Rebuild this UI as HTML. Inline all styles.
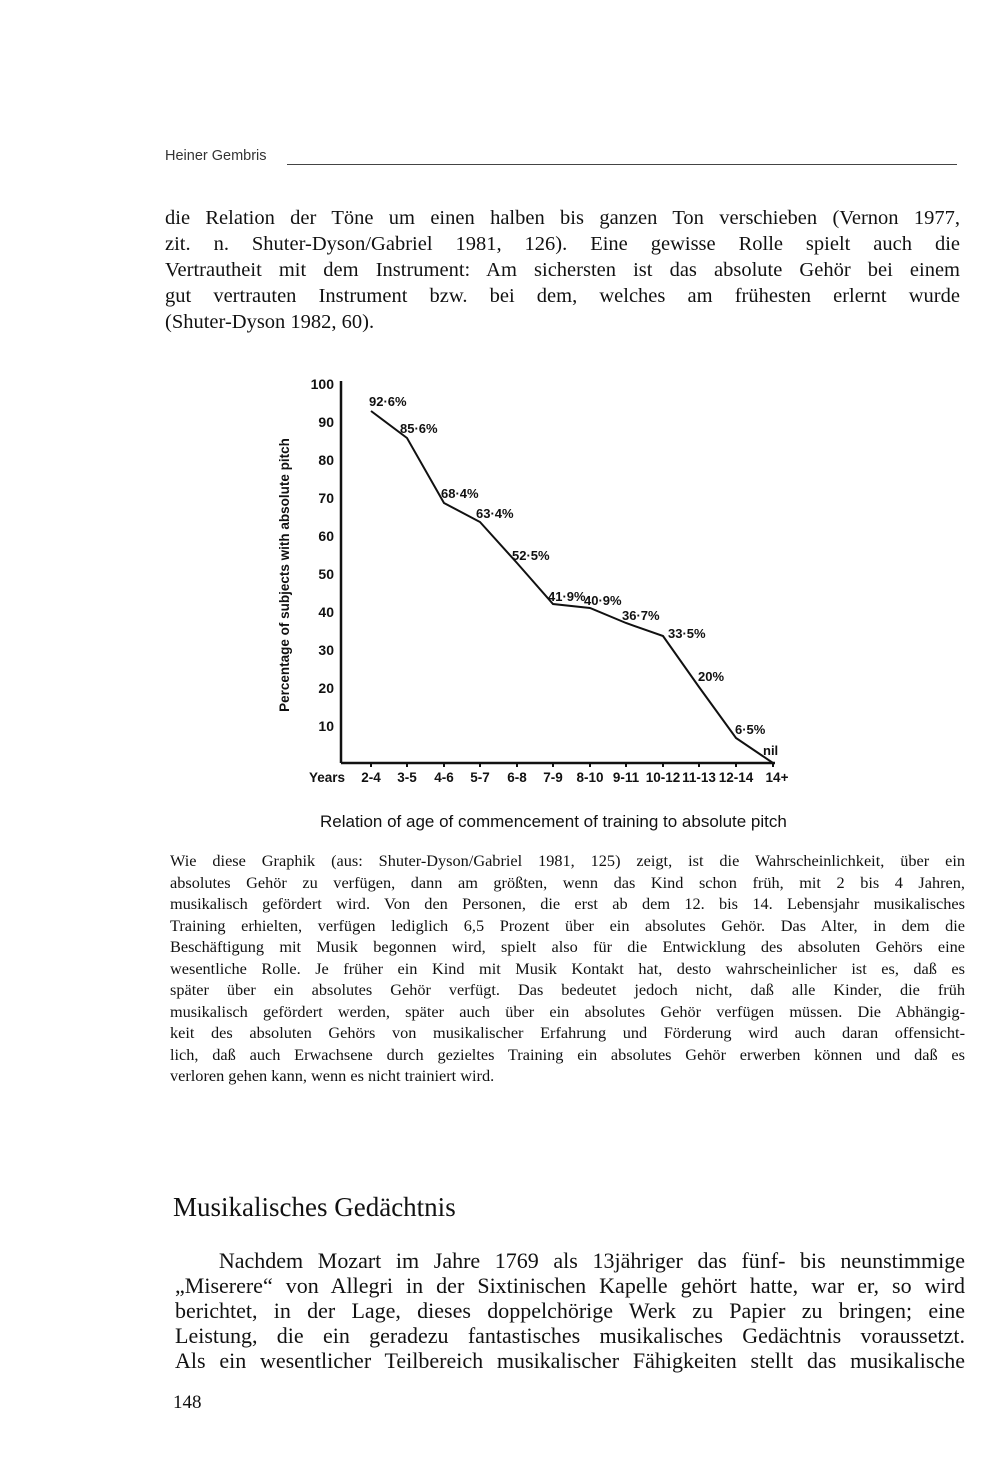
<!DOCTYPE html>
<html><head><meta charset="utf-8"><style>
body{margin:0;width:1000px;height:1473px;background:#fff;position:relative;font-family:"Liberation Serif",serif;color:#111;overflow:hidden}
.a{position:absolute}
.j{text-align:justify;text-align-last:justify;white-space:nowrap}
.j{white-space:normal}
.p1 div{height:26px;font-size:20.5px;line-height:26px}
.p2 div{height:21.5px;font-size:16.3px;line-height:21.5px}
.p3 div{height:25px;font-size:22px;line-height:25px}
</style></head><body>
<div class="a" style="left:165px;top:148px;font-family:'Liberation Sans',sans-serif;font-size:14.5px;color:#333">Heiner Gembris</div>
<div class="a" style="left:287px;top:164px;width:670px;border-top:1px solid #444"></div>
<div class="a p1" style="left:165px;top:205px;width:795px">
<div class="j">die Relation der Töne um einen halben bis ganzen Ton verschieben (Vernon 1977,</div>
<div class="j">zit. n. Shuter-Dyson/Gabriel 1981, 126). Eine gewisse Rolle spielt auch die</div>
<div class="j">Vertrautheit mit dem Instrument: Am sichersten ist das absolute Gehör bei einem</div>
<div class="j">gut vertrauten Instrument bzw. bei dem, welches am frühesten erlernt wurde</div>
<div>(Shuter-Dyson 1982, 60).</div>
</div>
<svg class="a" style="left:0;top:0" width="1000" height="800">
<g font-family="Liberation Sans,sans-serif" font-weight="bold" font-size="14" fill="#111">
<line x1="341" y1="381" x2="341" y2="763" stroke="#111" stroke-width="2.5"/>
<line x1="341" y1="763" x2="775" y2="763" stroke="#111" stroke-width="2.5"/>
<g stroke="#111" stroke-width="2">
<line x1="371" y1="763" x2="371" y2="767"/><line x1="407" y1="763" x2="407" y2="767"/><line x1="444" y1="763" x2="444" y2="767"/><line x1="480" y1="763" x2="480" y2="767"/><line x1="517" y1="763" x2="517" y2="767"/><line x1="553" y1="763" x2="553" y2="767"/><line x1="590" y1="763" x2="590" y2="767"/><line x1="626" y1="763" x2="626" y2="767"/><line x1="663" y1="763" x2="663" y2="767"/><line x1="699" y1="763" x2="699" y2="767"/><line x1="736" y1="763" x2="736" y2="767"/><line x1="773" y1="763" x2="773" y2="767"/>
</g>
<g text-anchor="end">
<text x="334" y="389">100</text><text x="334" y="427">90</text><text x="334" y="465">80</text><text x="334" y="503">70</text><text x="334" y="541">60</text><text x="334" y="579">50</text><text x="334" y="617">40</text><text x="334" y="655">30</text><text x="334" y="693">20</text><text x="334" y="731">10</text>
</g>
<text transform="translate(289,575) rotate(-90)" text-anchor="middle" font-size="13.5">Percentage of subjects with absolute pitch</text>
<polyline fill="none" stroke="#111" stroke-width="2" points="371,411 407,438 444,503 480,522 517,563 553,604 590,608 626,623 663,636 699,687 736,738 773,763"/>
<g font-size="13">
<text x="369" y="406">92·6%</text><text x="400" y="433">85·6%</text><text x="441" y="498">68·4%</text><text x="476" y="518">63·4%</text><text x="512" y="560">52·5%</text><text x="548" y="601">41·9%</text><text x="584" y="605">40·9%</text><text x="622" y="620">36·7%</text><text x="668" y="638">33·5%</text><text x="698" y="681">20%</text><text x="735" y="734">6·5%</text><text x="763" y="755">nil</text>
</g>
<g font-size="13.5" text-anchor="middle">
<text x="327" y="782">Years</text><text x="371" y="782">2-4</text><text x="407" y="782">3-5</text><text x="444" y="782">4-6</text><text x="480" y="782">5-7</text><text x="517" y="782">6-8</text><text x="553" y="782">7-9</text><text x="590" y="782">8-10</text><text x="626" y="782">9-11</text><text x="663" y="782">10-12</text><text x="699" y="782">11-13</text><text x="736" y="782">12-14</text><text x="777" y="782">14+</text>
</g>
</g>
</svg>
<div class="a" style="left:320px;top:812px;font-family:'Liberation Sans',sans-serif;font-size:17px;color:#111">Relation of age of commencement of training to absolute pitch</div>
<div class="a p2" style="left:170px;top:850px;width:795px">
<div class="j">Wie diese Graphik (aus: Shuter-Dyson/Gabriel 1981, 125) zeigt, ist die Wahrscheinlichkeit, über ein</div>
<div class="j">absolutes Gehör zu verfügen, dann am größten, wenn das Kind schon früh, mit 2 bis 4 Jahren,</div>
<div class="j">musikalisch gefördert wird. Von den Personen, die erst ab dem 12. bis 14. Lebensjahr musikalisches</div>
<div class="j">Training erhielten, verfügen lediglich 6,5 Prozent über ein absolutes Gehör. Das Alter, in dem die</div>
<div class="j">Beschäftigung mit Musik begonnen wird, spielt also für die Entwicklung des absoluten Gehörs eine</div>
<div class="j">wesentliche Rolle. Je früher ein Kind mit Musik Kontakt hat, desto wahrscheinlicher ist es, daß es</div>
<div class="j">später über ein absolutes Gehör verfügt. Das bedeutet jedoch nicht, daß alle Kinder, die früh</div>
<div class="j">musikalisch gefördert werden, später auch über ein absolutes Gehör verfügen müssen. Die Abhängig-</div>
<div class="j">keit des absoluten Gehörs von musikalischer Erfahrung und Förderung wird auch daran offensicht-</div>
<div class="j">lich, daß auch Erwachsene durch gezieltes Training ein absolutes Gehör erwerben können und daß es</div>
<div>verloren gehen kann, wenn es nicht trainiert wird.</div>
</div>
<div class="a" style="left:173px;top:1192px;font-size:27px">Musikalisches Gedächtnis</div>
<div class="a p3" style="left:175px;top:1248px;width:790px">
<div class="j">&nbsp;&nbsp;&nbsp;Nachdem Mozart im Jahre 1769 als 13jähriger das fünf- bis neunstimmige</div>
<div class="j">„Miserere“ von Allegri in der Sixtinischen Kapelle gehört hatte, war er, so wird</div>
<div class="j">berichtet, in der Lage, dieses doppelchörige Werk zu Papier zu bringen; eine</div>
<div class="j">Leistung, die ein geradezu fantastisches musikalisches Gedächtnis voraussetzt.</div>
<div class="j">Als ein wesentlicher Teilbereich musikalischer Fähigkeiten stellt das musikalische</div>
</div>
<div class="a" style="left:173px;top:1392px;font-size:19px">148</div>
</body></html>
